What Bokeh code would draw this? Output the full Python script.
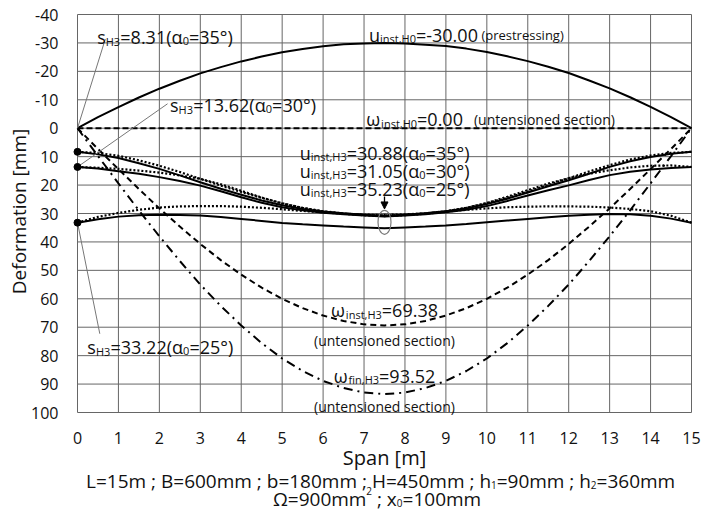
import math
from bokeh.plotting import figure
from bokeh.models import Range1d, Label, BoxAnnotation, Arrow, NormalHead
from bokeh.core.properties import value
from bokeh.embed import file_html
from bokeh.resources import INLINE

# ---- data -----------------------------------------------------------------
span = [0.0, 0.5, 1.0, 1.5, 2.0, 2.5, 3.0, 3.5, 4.0, 4.5, 5.0, 5.5, 6.0, 6.5, 7.0, 7.5,
        8.0, 8.5, 9.0, 9.5, 10.0, 10.5, 11.0, 11.5, 12.0, 12.5, 13.0, 13.5, 14.0, 14.5, 15.0]

# camber due to prestressing (negative = upward)
u_inst_h0 = [0.0, -3.9, -7.4, -10.8, -13.9, -16.7, -19.3, -21.5, -23.5, -25.2, -26.7, -27.9, -28.8, -29.5, -29.8, -30.0,
             -29.8, -29.4, -28.9, -28.0, -26.8, -25.3, -23.6, -21.6, -19.4, -16.8, -14.0, -10.9, -7.5, -3.9, 0.0]

# untensioned section, zero load state
ends = [0.0, 15.0]
w_inst_h0 = [0.0, 0.0]

# untensioned section, instantaneous and final deflection under H3
w_inst_h3 = [0.0, 7.3, 14.4, 21.4, 28.2, 34.6, 40.7, 46.4, 51.5, 56.1, 60.0, 63.3, 65.9, 67.8, 69.0, 69.38,
             69.0, 67.8, 65.9, 63.3, 60.0, 56.1, 51.5, 46.4, 40.7, 34.6, 28.2, 21.4, 14.4, 7.3, 0.0]
w_fin_h3 = [0.0, 9.8, 19.4, 28.9, 38.0, 46.7, 55.0, 62.5, 69.4, 75.6, 81.0, 85.4, 88.9, 91.4, 93.0, 93.52,
            93.0, 91.4, 88.9, 85.4, 81.0, 75.6, 69.4, 62.5, 55.0, 46.7, 38.0, 28.9, 19.4, 9.8, 0.0]

# prestressed section under H3, three cable angles (solid and dotted variants)
alpha0 = [35, 30, 25]
s_h3 = [8.31, 13.62, 33.22]
u_mid_h3 = [30.88, 31.05, 35.23]

u35 = [8.31, 9.2, 10.5, 12.3, 14.3, 16.6, 19.0, 21.3, 23.4, 25.4, 27.1, 28.4, 29.3, 29.9, 30.4, 30.88,
       30.4, 29.9, 29.2, 28.2, 26.7, 24.8, 22.6, 20.4, 18.3, 16.0, 13.6, 11.6, 10.1, 9.0, 8.31]
u35_dot = [8.31, 8.7, 9.7, 11.3, 13.2, 15.4, 17.8, 20.2, 22.4, 24.5, 26.4, 28.0, 29.2, 30.0, 30.5, 30.7,
           30.5, 30.0, 29.2, 28.0, 26.4, 24.5, 22.3, 20.0, 17.6, 15.2, 13.0, 11.0, 9.6, 8.7, 8.31]
u30 = [13.62, 14.2, 15.1, 16.0, 17.2, 18.6, 20.2, 22.2, 24.3, 26.2, 27.8, 28.9, 29.7, 30.3, 30.7, 31.05,
       30.7, 30.3, 29.6, 28.7, 27.4, 25.6, 23.7, 21.8, 20.1, 18.2, 16.5, 15.3, 14.5, 14.0, 13.62]
u30_dot = [13.62, 13.9, 14.3, 14.9, 15.6, 16.6, 17.8, 19.7, 22.0, 24.4, 26.5, 28.1, 29.3, 30.1, 30.6, 30.9,
           30.6, 30.1, 29.3, 28.0, 26.3, 24.1, 21.8, 19.5, 17.6, 16.0, 14.8, 13.8, 13.2, 13.1, 13.62]
u25 = [33.22, 32.0, 31.1, 30.6, 30.4, 30.5, 30.7, 31.2, 31.9, 32.6, 33.3, 33.8, 34.2, 34.6, 34.9, 35.23,
       34.9, 34.6, 34.2, 33.7, 33.1, 32.5, 31.9, 31.3, 30.8, 30.4, 30.2, 30.3, 30.8, 31.8, 33.22]
u25_dot = [33.22, 31.2, 29.8, 28.7, 27.9, 27.5, 27.4, 27.4, 27.6, 28.0, 28.5, 29.1, 29.6, 30.1, 30.4, 30.5,
           30.3, 29.9, 29.3, 28.7, 28.2, 27.8, 27.6, 27.5, 27.5, 27.6, 27.9, 28.4, 29.2, 30.8, 33.22]

x_ticks = list(range(0, 16))
y_ticks = [-40, -30, -20, -10, 0, 10, 20, 30, 40, 50, 60, 70, 80, 90, 100]

# ---- canvas -----------------------------------------------------------------
# The frame covers the whole canvas; the chart box, its grid, tick labels and
# titles are laid out inside it in data units.
FONT = "Open Sans"
INK = "#111111"
W, H = 701, 513
BL, BR, BT, BB = 77, 10, 14, 101
X0, X1, Y_TOP, Y_BOTTOM = 0, 15, -40, 100
PX_X = (W - BL - BR) / (X1 - X0)          # px per metre
PX_Y = (H - BT - BB) / (Y_BOTTOM - Y_TOP)  # px per mm, downwards


def xs(px):
    return X0 + (px - BL) / PX_X


def ys(py):
    return Y_TOP + (py - BT) / PX_Y


p = figure(width=W, height=H, x_range=Range1d(xs(0), xs(W)), y_range=Range1d(ys(H), ys(0)),
           output_backend="svg", toolbar_location=None, min_border=0,
           x_axis_location=None, y_axis_location=None,
           background_fill_color="white", border_fill_color="white")
p.outline_line_color = None
p.grid.visible = False

# grid and box
GRID = "#666666"
p.segment(x0=x_ticks, x1=x_ticks, y0=[y_ticks[0]] * len(x_ticks), y1=[y_ticks[-1]] * len(x_ticks),
          line_color=GRID, line_width=1)
p.segment(x0=[x_ticks[0]] * len(y_ticks), x1=[x_ticks[-1]] * len(y_ticks), y0=y_ticks, y1=y_ticks,
          line_color=GRID, line_width=1)

# tick labels
p.text(x=x_ticks, y=[ys(437)] * len(x_ticks), text=[str(t) for t in x_ticks],
       text_font=value(FONT), text_font_size="16px", text_color=INK,
       text_align="center", text_baseline="middle")
p.text(x=[xs(58)] * len(y_ticks), y=y_ticks, text=[str(t) for t in y_ticks],
       text_font=value(FONT), text_font_size="16px", text_color=INK,
       text_align="right", text_baseline="middle")

# axis titles
p.add_layout(Label(x=xs(384), y=ys(457), text="Span [m]", text_font=FONT, text_font_size="20px",
                   text_color=INK, text_align="center", text_baseline="middle"))
p.add_layout(Label(x=xs(18), y=ys(211), text="Deformation [mm]", text_font=FONT, text_font_size="19px",
                   text_color=INK, text_align="center", text_baseline="middle", angle=math.pi / 2))

# ---- text helpers -----------------------------------------------------------
EM = {".": 0.266, ",": 0.245, ";": 0.266, "(": 0.296, ")": 0.296, "[": 0.334, "]": 0.334,
      "-": 0.322, "=": 0.572, "°": 0.417, " ": 0.26, "²": 0.38,
      "a": 0.556, "b": 0.613, "c": 0.478, "d": 0.613, "e": 0.561, "f": 0.336, "g": 0.544,
      "h": 0.614, "i": 0.252, "m": 0.92, "n": 0.614, "o": 0.603, "p": 0.613, "r": 0.408,
      "s": 0.477, "t": 0.353, "u": 0.614, "x": 0.524,
      "B": 0.648, "H": 0.753, "L": 0.519, "α": 0.613, "ω": 0.83, "Ω": 0.78}
for d in "0123456789":
    EM[d] = 0.572


def text_w(txt, size):
    return sum(EM.get(ch, 0.56) for ch in txt) * size


MAIN, SUB, PAREN = 18, 11, 14


def m(t, size=MAIN):
    return (t, size, 0)


def sb(t, size=SUB):
    return (t, size, 4)


def sp(t, size=SUB):
    return (t, size, -8)


def rich(parts, x, base, align="left", box=True):
    """Runs of normal / lowered / raised text set one after another on a baseline."""
    total = sum(text_w(t, s) for t, s, _ in parts)
    left = x - (total / 2) / PX_X if align == "center" else x
    if box:
        top = max(s for _, s, _ in parts)
        p.add_layout(BoxAnnotation(left=left - 2 / PX_X, right=left + (total + 2) / PX_X,
                                   top=base - 0.78 * top / PX_Y, bottom=base + 5 / PX_Y,
                                   fill_color="white", fill_alpha=1.0, line_color=None,
                                   level="underlay"))
    cur = 0.0
    for t, s, dy in parts:
        body = t.lstrip(" ")
        cur += text_w(t[:len(t) - len(body)], s)   # leading blanks are not drawn by svg text
        p.add_layout(Label(x=left + cur / PX_X, y=base + dy / PX_Y, text=body.rstrip(" "),
                           text_font=FONT, text_font_size=f"{s}px", text_color=INK,
                           text_align="left", text_baseline="alphabetic"))
        cur += text_w(body, s)


# ---- curves -----------------------------------------------------------------
p.line(span, u_inst_h0, line_color="black", line_width=2)
p.line(ends, w_inst_h0, line_color="black", line_width=2, line_dash="6 3")
p.line(span, w_inst_h3, line_color="black", line_width=2, line_dash="6 4")
p.line(span, w_fin_h3, line_color="black", line_width=2, line_dash="9 5 2 5")

for solid, dotted in ((u35, u35_dot), (u30, u30_dot), (u25, u25_dot)):
    p.line(span, dotted, line_color="black", line_width=2.2, line_dash="2 2")
    p.line(span, solid, line_color="black", line_width=2)

# leader lines to the support values
p.segment(x0=[0.68, 2.2, 0.545], y0=[-31.4, -8.6, 72.3], x1=[0, 0, 0], y1=[0, s_h3[1], s_h3[2]],
          line_color="#777777", line_width=1)
p.scatter([0, 0, 0], s_h3, size=7, color="black")

# marker at midspan
p.add_layout(Arrow(end=NormalHead(size=7, fill_color="black", line_color="black"),
                   x_start=7.5, y_start=24.0, x_end=7.5, y_end=28.4,
                   line_color="black", line_width=1.3))
p.ellipse(x=[7.5], y=[33.1], width=13, height=24, width_units="screen", height_units="screen",
          fill_color=None, line_color="#7a7a7a", line_width=1.2)

# ---- annotations ------------------------------------------------------------
rich([m("s"), sb("H3"), m(f"={s_h3[0]:.2f}("), m("α"), sb("0"), m(f"={alpha0[0]}°)")], 0.48, -32.0)
rich([m("s"), sb("H3"), m(f"={s_h3[1]:.2f}("), m("α"), sb("0"), m(f"={alpha0[1]}°)")], 2.26, -8.0)
rich([m("s"), sb("H3"), m(f"={s_h3[2]:.2f}("), m("α"), sb("0"), m(f"={alpha0[2]}°)")], 0.24, 77.0)

rich([m("u"), sb("inst,H0"), m(f"={u_inst_h0[15]:.2f}"), m(" (prestressing)", 13)], 9.5, -32.8, "center")
rich([m("ω"), sb("inst,H0"), m(f"={w_inst_h0[0]:.2f}"), m("   (untensioned section)", PAREN)], 10.09, -3.1, "center")

for i, base in enumerate([8.65, 14.9, 21.3]):
    rich([m("u"), sb("inst,H3"), m(f"={u_mid_h3[i]:.2f}("), m("α"), sb("0"), m(f"={alpha0[i]}°)")],
         7.5, base, "center")

rich([m("ω"), sb("inst,H3"), m(f"={w_inst_h3[15]:.2f}")], 7.5, 64.1, "center")
rich([m("(untensioned section)", PAREN)], 7.5, 74.7, "center")
rich([m("ω"), sb("fin,H3"), m(f"={w_fin_h3[15]:.2f}")], 7.5, 87.0, "center")
rich([m("(untensioned section)", PAREN)], 7.5, 97.9, "center")

# ---- section data below the chart ------------------------------------------
FOOT = 19
rich([m("L=15m ; B=600mm ; b=180mm ; H=450mm ; h", FOOT), sb("1", 10), m("=90mm ; h", FOOT), sb("2", 10),
      m("=360mm", FOOT)], xs(380), ys(480), "center", box=False)
rich([m("Ω=900mm", FOOT), sp("2", 10), m(" ; x", FOOT), sb("0", 10), m("=100mm", FOOT)],
     xs(376.5), ys(498), "center", box=False)

open("out.html", "w").write(file_html(p, INLINE))
